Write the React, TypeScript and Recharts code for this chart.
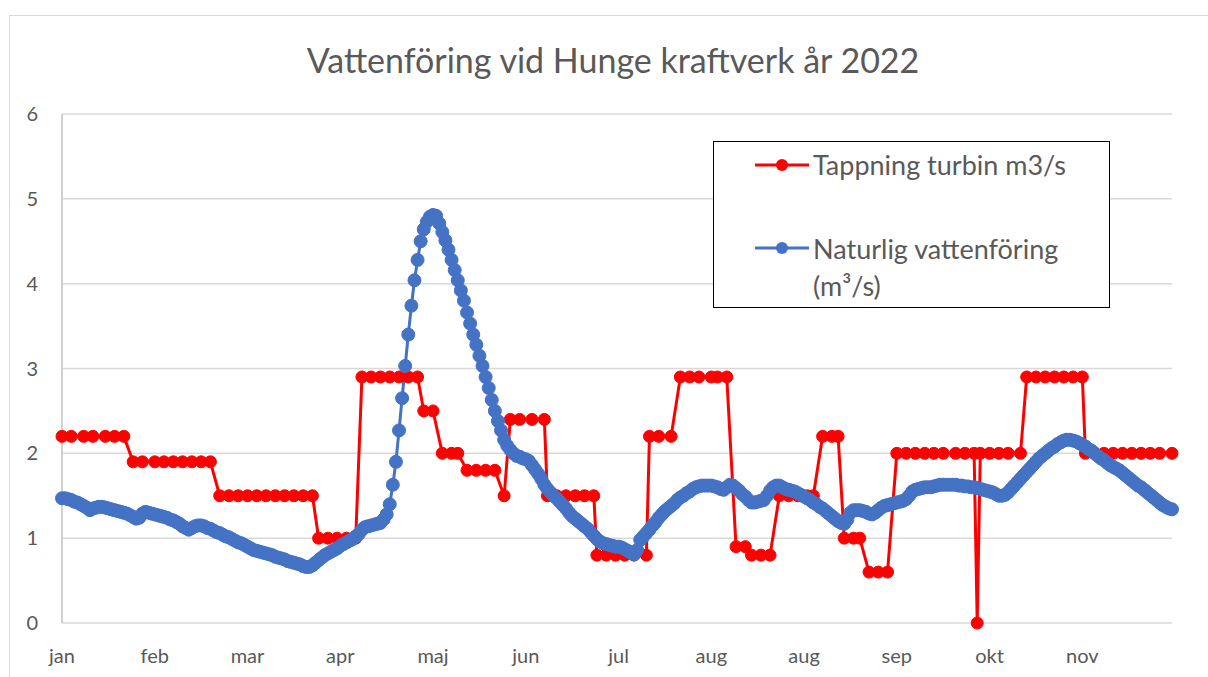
import React from "react";
import { LineChart, Line, XAxis, YAxis, CartesianGrid } from "recharts";

const title = "Vattenföring vid Hunge kraftverk år 2022";
const seriesTurbinName = "Tappning turbin m3/s";
const seriesNaturalName = "Naturlig vattenföring (m³/s)";

const tickDays = [0, 30, 60, 90, 120, 150, 180, 210, 240, 270, 300, 330];
const tickLabels = ["jan", "feb", "mar", "apr", "maj", "jun", "jul", "aug", "aug", "sep", "okt", "nov"];
const yTicks = [0, 1, 2, 3, 4, 5, 6];

// Naturlig vattenföring, one value per day (index 0..359)
const naturalValues = [
  1.47, 1.47, 1.46, 1.45, 1.43, 1.42, 1.40, 1.38, 1.36, 1.33,
  1.35, 1.36, 1.37, 1.37, 1.36, 1.35, 1.34, 1.33, 1.32, 1.31,
  1.30, 1.29, 1.27, 1.25, 1.23, 1.24, 1.29, 1.31, 1.30, 1.29,
  1.28, 1.27, 1.26, 1.25, 1.24, 1.22, 1.21, 1.19, 1.17, 1.14,
  1.12, 1.10, 1.12, 1.14, 1.15, 1.15, 1.14, 1.12, 1.11, 1.09,
  1.07, 1.06, 1.04, 1.02, 1.01, 0.99, 0.97, 0.95, 0.94, 0.92,
  0.90, 0.88, 0.86, 0.85, 0.84, 0.83, 0.82, 0.81, 0.80, 0.78,
  0.77, 0.76, 0.75, 0.73, 0.72, 0.71, 0.70, 0.69, 0.67, 0.66,
  0.66, 0.68, 0.71, 0.74, 0.77, 0.80, 0.82, 0.84, 0.86, 0.88,
  0.91, 0.93, 0.95, 0.97, 0.99, 1.02, 1.05, 1.10, 1.13, 1.14,
  1.15, 1.16, 1.17, 1.18, 1.22, 1.28, 1.40, 1.63, 1.90, 2.27,
  2.65, 3.03, 3.40, 3.74, 4.04, 4.28, 4.50, 4.64, 4.73, 4.79,
  4.81, 4.80, 4.71, 4.61, 4.51, 4.40, 4.28, 4.16, 4.04, 3.92,
  3.80, 3.66, 3.53, 3.40, 3.28, 3.15, 3.03, 2.90, 2.77, 2.63,
  2.50, 2.38, 2.27, 2.16, 2.09, 2.04, 2.00, 1.97, 1.96, 1.94,
  1.93, 1.91, 1.86, 1.81, 1.76, 1.70, 1.63, 1.58, 1.54, 1.50,
  1.47, 1.43, 1.39, 1.35, 1.30, 1.26, 1.23, 1.20, 1.17, 1.14,
  1.11, 1.07, 1.03, 0.99, 0.96, 0.94, 0.93, 0.92, 0.91, 0.90,
  0.90, 0.89, 0.87, 0.85, 0.83, 0.81, 0.86, 0.98, 1.02, 1.06,
  1.10, 1.15, 1.19, 1.24, 1.28, 1.32, 1.35, 1.38, 1.41, 1.45,
  1.48, 1.50, 1.53, 1.55, 1.58, 1.60, 1.61, 1.62, 1.62, 1.62,
  1.62, 1.61, 1.60, 1.58, 1.57, 1.60, 1.63, 1.62, 1.59, 1.56,
  1.52, 1.49, 1.45, 1.42, 1.42, 1.43, 1.44, 1.45, 1.50, 1.56,
  1.60, 1.62, 1.62, 1.60, 1.58, 1.57, 1.56, 1.55, 1.53, 1.51,
  1.49, 1.47, 1.45, 1.42, 1.40, 1.37, 1.35, 1.32, 1.29, 1.26,
  1.23, 1.20, 1.18, 1.17, 1.22, 1.30, 1.33, 1.33, 1.33, 1.32,
  1.31, 1.29, 1.28, 1.30, 1.33, 1.36, 1.38, 1.39, 1.40, 1.41,
  1.42, 1.43, 1.44, 1.46, 1.50, 1.55, 1.57, 1.58, 1.59, 1.60,
  1.60, 1.60, 1.61, 1.62, 1.63, 1.63, 1.63, 1.63, 1.63, 1.63,
  1.62, 1.62, 1.61, 1.61, 1.60, 1.60, 1.59, 1.58, 1.57, 1.56,
  1.55, 1.54, 1.52, 1.50, 1.50, 1.51, 1.54, 1.58, 1.62, 1.66,
  1.70, 1.74, 1.78, 1.82, 1.86, 1.90, 1.94, 1.97, 2.00, 2.03,
  2.06, 2.08, 2.11, 2.13, 2.15, 2.16, 2.16, 2.15, 2.14, 2.12,
  2.10, 2.08, 2.05, 2.03, 2.00, 1.97, 1.94, 1.92, 1.89, 1.86,
  1.84, 1.82, 1.80, 1.77, 1.74, 1.71, 1.68, 1.65, 1.62, 1.60,
  1.57, 1.54, 1.51, 1.48, 1.45, 1.42, 1.39, 1.37, 1.35, 1.34,
];

// Tappning turbin, recorded on these day indices
const turbinDays = [
  0, 3, 7, 10, 14, 17, 20,
  23, 26, 30, 33, 36, 39, 42, 45, 48,
  51, 54, 57, 60, 63, 66, 69, 72, 75, 78, 81,
  83, 86, 89, 92, 95,
  97, 100, 103, 106, 109, 112, 115,
  117, 120,
  123, 126, 128,
  131, 134, 137, 140,
  143,
  145, 148, 152, 156,
  157, 160, 163, 166, 169, 172,
  173, 176, 179, 182, 185, 189,
  190, 193, 197,
  200, 203, 206, 210, 212, 215,
  218, 221,
  223, 226, 229,
  232, 235, 238, 241, 243,
  246, 249, 251,
  253, 256, 258,
  261, 264, 267,
  270, 273, 276, 279, 282, 285, 289, 292, 295,
  296,
  297, 300, 303, 306, 310,
  312, 315, 318, 321, 324, 327, 330,
  331, 334, 337, 340, 343, 346, 349, 352, 355, 359,
];
const turbinValues = [
  2.2, 2.2, 2.2, 2.2, 2.2, 2.2, 2.2,
  1.9, 1.9, 1.9, 1.9, 1.9, 1.9, 1.9, 1.9, 1.9,
  1.5, 1.5, 1.5, 1.5, 1.5, 1.5, 1.5, 1.5, 1.5, 1.5, 1.5,
  1.0, 1.0, 1.0, 1.0, 1.0,
  2.9, 2.9, 2.9, 2.9, 2.9, 2.9, 2.9,
  2.5, 2.5,
  2.0, 2.0, 2.0,
  1.8, 1.8, 1.8, 1.8,
  1.5,
  2.4, 2.4, 2.4, 2.4,
  1.5, 1.5, 1.5, 1.5, 1.5, 1.5,
  0.8, 0.8, 0.8, 0.8, 0.8, 0.8,
  2.2, 2.2, 2.2,
  2.9, 2.9, 2.9, 2.9, 2.9, 2.9,
  0.9, 0.9,
  0.8, 0.8, 0.8,
  1.5, 1.5, 1.5, 1.5, 1.5,
  2.2, 2.2, 2.2,
  1.0, 1.0, 1.0,
  0.6, 0.6, 0.6,
  2.0, 2.0, 2.0, 2.0, 2.0, 2.0, 2.0, 2.0, 2.0,
  0,
  2.0, 2.0, 2.0, 2.0, 2.0,
  2.9, 2.9, 2.9, 2.9, 2.9, 2.9, 2.9,
  2.0, 2.0, 2.0, 2.0, 2.0, 2.0, 2.0, 2.0, 2.0, 2.0,
];

const naturalData = naturalValues.map((v, i) => ({ day: i, value: v }));
const turbinData = turbinDays.map((d, i) => ({ day: d, value: turbinValues[i] }));

const RED = "#FF0000";
const BLUE = "#4472C4";
const TEXT = "#595959";
const FONT = "Lato, 'Open Sans', sans-serif";

const Legend = () => (
  <div
    style={{
      position: "absolute",
      left: 713,
      top: 141,
      width: 397,
      height: 167,
      border: "1.5px solid #000",
      background: "#fff",
      boxSizing: "border-box",
      fontFamily: FONT,
      color: TEXT,
      fontSize: 27,
    }}
  >
    <svg width={60} height={20} style={{ position: "absolute", left: 40, top: 13 }}>
      <line x1={1} y1={10} x2={55} y2={10} stroke={RED} strokeWidth={3} />
      <circle cx={28} cy={10} r={6} fill={RED} />
    </svg>
    <div style={{ position: "absolute", left: 99, top: 6, lineHeight: "34px", whiteSpace: "nowrap" }}>
      {seriesTurbinName}
    </div>
    <svg width={60} height={20} style={{ position: "absolute", left: 40, top: 96 }}>
      <line x1={1} y1={10} x2={55} y2={10} stroke={BLUE} strokeWidth={3} />
      <circle cx={28} cy={10} r={6} fill={BLUE} />
    </svg>
    <div style={{ position: "absolute", left: 99, top: 88, lineHeight: "37px", width: 290 }}>
      {seriesNaturalName}
    </div>
  </div>
);

export default function App() {
  return (
    <div
      style={{
        position: "fixed",
        left: 0,
        top: 0,
        width: 1208,
        height: 677,
        overflow: "hidden",
        background: "#fff",
      }}
    >
      <div
        style={{
          position: "absolute",
          left: 9,
          top: 15,
          width: 1400,
          height: 900,
          border: "1px solid #d9d9d9",
        }}
      />
      <div
        style={{
          position: "absolute",
          left: 0,
          width: 1226,
          top: 39,
          textAlign: "center",
          fontFamily: FONT,
          fontSize: 34,
          color: TEXT,
          lineHeight: "42px",
        }}
      >
        {title}
      </div>
      <div style={{ position: "absolute", left: 0, top: 0 }}>
        <LineChart width={1208} height={677} margin={{ top: 114, right: 36, bottom: 4, left: 0 }}>
          <CartesianGrid vertical={false} stroke="#d9d9d9" strokeWidth={1.5} />
          <XAxis
            dataKey="day"
            type="number"
            domain={[0, 359]}
            ticks={tickDays}
            interval={0}
            tickFormatter={(d: number) => tickLabels[tickDays.indexOf(d)] ?? ""}
            axisLine={false}
            tickLine={false}
            tickSize={0}
            tickMargin={26}
            height={50}
            tick={{ fill: TEXT, fontSize: 20, fontFamily: FONT }}
            allowDuplicatedCategory
          />
          <YAxis
            type="number"
            domain={[0, 6]}
            ticks={yTicks}
            interval={0}
            width={62}
            axisLine={{ stroke: "#d0d0d0", strokeWidth: 2 }}
            tickLine={false}
            tickSize={0}
            tickMargin={24}
            tick={{ fill: TEXT, fontSize: 20, fontFamily: FONT }}
          />
          <Line
            data={turbinData}
            dataKey="value"
            name={seriesTurbinName}
            type="linear"
            stroke={RED}
            strokeWidth={3}
            dot={{ r: 6, fill: RED, stroke: RED, strokeWidth: 1 }}
            activeDot={false}
            isAnimationActive={false}
          />
          <Line
            data={naturalData}
            dataKey="value"
            name={seriesNaturalName}
            type="linear"
            stroke={BLUE}
            strokeWidth={3}
            dot={{ r: 6.5, fill: BLUE, stroke: BLUE, strokeWidth: 1 }}
            activeDot={false}
            isAnimationActive={false}
          />
        </LineChart>
      </div>
      <Legend />
    </div>
  );
}
